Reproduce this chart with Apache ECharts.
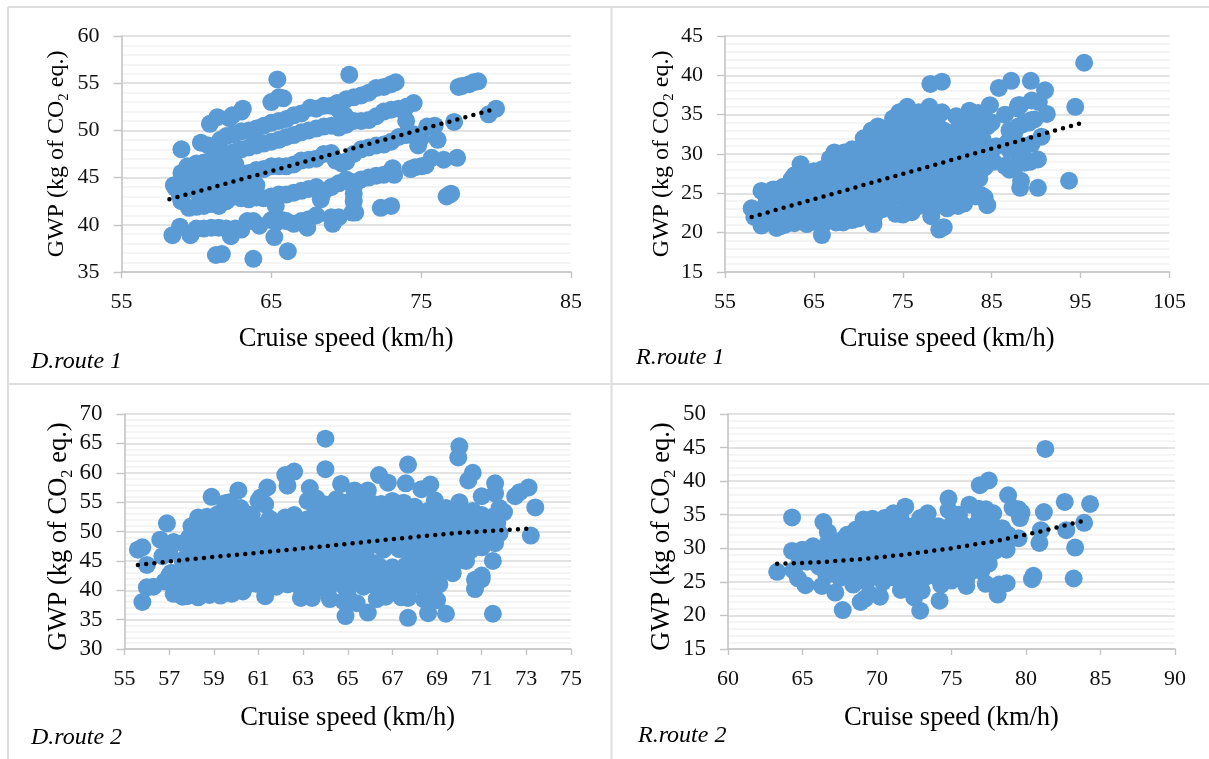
<!DOCTYPE html>
<html>
<head>
<meta charset="utf-8">
<style>html,body{margin:0;padding:0;background:#fff}#c{width:1209px;height:759px}</style>
<script src="https://cdn.jsdelivr.net/npm/echarts@6/dist/echarts.min.js"></script>
</head>
<body>
<div id="c"></div>
<script>
const xTicksD1 = [55,65,75,85];
const xTicksR1 = [55,65,75,85,95,105];
const xTicksD2 = [55,57,59,61,63,65,67,69,71,73,75];
const xTicksR2 = [60,65,70,75,80,85,90];

const trendD1 = [[58.2,42.7],[80,52.3]];
const trendR1 = [[58,22],[95.3,34]];
const trendD2 = [[55.6,44.3],[58,45.3],[61,46.4],[64,47.5],[67,48.7],[70,49.8],[73.2,50.5]];
const trendR2 = [[63.3,27.7],[66,27.9],[69,28.4],[72,29.1],[75,30],[78,31.1],[81,32.5],[83.9,34.1]];

const pointsD1 = [
[60.9,50.7],[61.4,51.4],[62.2,51.3],[62.4,51.6],[63,52],[63.1,52.3],
[60.3,48.7],[60.8,48.4],[61.6,49],[62,49.4],[62.5,49.6],[63,49.9],[63.5,50],[64,50.2],[64.5,50.5],[65,50.8],[65.5,51],[66,51.2],[66.5,51.6],[67,51.8],[67.6,52.4],[68,52.3],[68.5,52.6],[69,52.6],[69.4,52.9],[69.6,52],[69.9,51.6],
[65,53],[65.5,53.5],[65.8,53.4],[65.4,55.4],[70.2,55.9],[70,53.3],[70.5,53.5],[71,53.7],[71.5,54],[72,54.5],[72.5,54.6],[73,54.9],[73.3,55.1],[77.5,54.6],[77.7,54.7],[78.2,54.9],[78.5,55.1],[78.8,55.2],[80,52.3],[79.5,51.7],[77.2,50.9],
[59,48],[59.4,46.2],[60,46.5],[60.5,46.6],[61,46.8],[61.5,47.2],[62,47.5],[62.5,47.7],[63,48],[63.5,48.2],[64,48.4],[64.5,48.6],[65,48.8],[65.5,49],[66,49.3],[66.5,49.5],[67,49.8],[67.5,50],[68,50.2],[68.5,50.4],[69,50.5],[69.5,50.3],[70,50.6],[70.5,51],[71,51],[71.5,51.1],[72,51.5],[72.5,52],[73,52.2],[73.5,52.3],[74,52.5],[74.5,52.9],[74,51],
[58.5,44.2],[59,44.5],[59.5,44.8],[60,45],[60.5,45.2],[61,45.2],[61.5,45],[62,45.1],[62.5,45.2],[63,45.4],[63.5,45.5],[64,45.8],[64.5,45.9],[65,46.2],[65.5,46.2],[66,46.2],[66.5,46.4],[67,46.8],[67.5,46.9],[68,47],[68.5,47.5],[69,47.6],[69.3,46.8],[69.7,46.5],[70,46.7],[70.5,47.5],[71,48],[71.5,48.2],[72,48.4],[72.5,48.5],[73,48.8],[73.5,49.3],[74,49.5],[74.5,49.6],[74.8,48.4],[75,49.2],[75.4,50.4],[75.9,50.5],[76.1,49],
[58.6,43.9],[59,42.5],[59.5,41.8],[60,41.9],[60.5,42],[61,42.2],[61.5,42],[62,42.5],[62.5,43],[63,42.8],[63.5,42.7],[64,42.9],[64.5,42.8],[65,43],[65.3,42],[65.5,43.2],[66,43.2],[66.5,43.4],[67,43.6],[67.5,43.8],[68,44],[68.3,42.7],[68.5,43.5],[69,44],[69.5,44.4],[70,44.8],[70.5,44.5],[71,44.8],[71.5,45],[72,45.2],[72.5,45.3],[73,45.6],[73.2,45.3],[73.1,46],[74.3,45.9],[74.6,46.1],[75,46.2],[75.3,46.3],[75.7,47.1],[76.5,46.9],[77.4,47.1],[76.7,43],[76.9,43.2],[77,43.3],[72.3,41.8],[73,42],[70.5,44],[70.5,43.3],[70.5,42.5],[70.4,41.3],[70.6,41.3],
[59.2,43.6],[60,43.5],[60.5,43.8],[61,43.5],[61.6,43.7],[62,43.8],[62.5,44],[63,44.2],[59.8,44],[58.9,43.1],[60.4,42.8],[61.5,42.9],
[59,45.5],[60,45.7],[61,46],[62,46.2],[62.6,46.4],[60.7,44.6],[61.5,44.4],[62,44.3],[63,44.5],[63.5,44.3],[64,44.2],[63.3,43.7],
[58.4,38.9],[58.9,39.8],[59.6,38.9],[60,39.6],[60.5,39.6],[61,39.7],[61.5,39.7],[62,39.6],[62.3,38.8],[62.6,39.6],[63,39.5],[63.4,40.4],[63.8,40.4],[64.2,39.9],[65,40.5],[65.2,38.7],[65.4,40.3],[65.7,40.5],[66,40.4],[66.5,40.1],[67,40.4],[67.4,39.7],[67.5,40.6],[68,41],[69,40.8],[69.1,40.1],[69.5,40.8],[61.3,36.8],[61.7,36.9],[63.8,36.4],[66.1,37.2]
];

const pointsR1 = [
[95.4,41.6],[94.4,36],[93.7,26.6],[91,38.1],[91.2,35.1],[90.6,32.2],[90.2,29.3],[90.2,25.7],[90.3,36.6],[89.4,39.3],[89.5,36.8],[89.4,34.3],[89.8,34.4],[87.2,39.3],[85.8,38.4],[88,36.2],[87.9,35.8],[88.2,36.2],[88.3,26.6],[88.2,25.7],[86.5,35],[84.8,36.2],[84.5,23.5],[84.2,24.5],[83.8,24.8],[83.6,26.9],[84,31.8],[85.2,29],[79.4,39.2],[78.1,38.9],[78,36],[79.4,35.3],[75.5,36],[74.6,35.3],[73.9,34.5],[72.2,33.5],[71.5,33],[67.3,30.2],[68.4,30.2],[69.3,30.6],[63.5,28.7],[65,27.8],[62.8,27.3],[59.1,25.3],[60.5,25.4],[61.5,25.8],[58,23.1],[58.3,22],[59.1,20.9],[60.8,20.6],[61.2,20.8],[61.7,21],[64.2,21.1],[65.9,19.7],[66,21],[67.5,21.3],[68.3,21.3],[70,21.8],[71.7,21.1],[74.2,22.4],[75,22.3],[76,22.6],[78.2,22.1],[79.1,20.4],[79.6,20.7],[80,23.1],[81,23.6],[81.9,23.7],
[87,33],[87.5,32.5],[88,33.5],[88.5,33.8],[89.2,34],[86.5,28.5],[87,28],[87.5,28.2],[88,28.8],[88.7,28.9],[89.3,29],[88,30.8],[88.7,31],[89.5,31.3],[87,30.5],[86.8,31.5],[85,30.5],[85.5,31],[85,34],[84,34.5],[84.5,33.5],[81,34.8],[82.5,35.5],[83.5,35.2],
[59.3,21.6],[60.5,22],[62,21.4],[63.2,21.9],[64.6,21.6],[66.2,22],[67.6,21.8],[69,22.2],[70.4,22.4],[71.8,22.2],[60,21.3],[62.8,21.2],[65,21.4],[69.3,21.6],
[59,22.9],[60.4,23.1],[61.7,22.8],[63.1,23],[64.5,23.2],[65.8,22.9],[67.2,23.1],[68.7,22.8],[70,23.2],[71.3,23.3],[72.7,23],[76.8,23.4],[78.5,23.2],[79.8,23.5],[81.2,23.4],
[59.7,24.2],[61,24],[62.4,24.3],[63.8,24.1],[65.2,24.3],[66.5,24],[68,24.2],[69.4,24.4],[70.8,24.1],[72.2,24.3],[73.6,24.2],[75,24.4],[76.3,24.6],[77.7,24.2],[79,24.4],[80.4,24.6],[81.8,24.5],[83.2,24.6],
[60.4,25.5],[61.8,25.3],[63.2,25.5],[64.6,25.7],[66,25.3],[67.4,25.6],[68.8,25.4],[70.2,25.6],[71.5,25.4],[72.9,25.6],[74.4,25.5],[75.8,25.7],[77.2,25.5],[78.6,25.8],[80,25.5],[81.4,25.7],[82.8,25.6],
[62.5,26.8],[63.9,26.6],[65.3,26.9],[66.7,26.6],[68.1,26.8],[69.5,26.7],[70.9,26.9],[72.3,26.6],[73.7,26.8],[75.1,26.7],[76.5,27],[77.9,26.8],[79.3,26.7],[80.7,26.9],[82.1,26.8],[83.3,27],
[63.6,28],[66,28.1],[67.4,27.9],[68.8,28.2],[70.2,28],[71.6,28.1],[73,28],[74.4,28.3],[75.8,28.1],[77.2,28],[78.6,28.2],[80,28],[81.4,28.2],[82.8,28],[84.2,28.3],
[66.8,29.4],[68.2,29.2],[69.6,29.4],[71,29.5],[72.4,29.2],[73.8,29.4],[75.2,29.3],[76.6,29.5],[78,29.3],[79.4,29.4],[80.8,29.2],[82.2,29.5],[83.6,29.4],[84.8,29.6],
[69.4,30.5],[70.8,30.8],[72.2,30.5],[73.6,30.7],[75,30.6],[76.4,30.8],[77.8,30.5],[79.2,30.7],[80.6,30.6],[82,30.8],[83.4,30.5],[84.5,30.9],
[70.6,32],[72,31.8],[73.4,32],[74.8,31.9],[76.2,32.1],[77.6,31.8],[79,32],[80.4,31.9],[81.8,32.1],[83.2,31.9],
[72.8,33.2],[74.2,33],[75.6,33.3],[77,33.1],[78.4,33.3],[79.6,33],[81.2,33.2],[82.6,33.3],[83.6,33.1],
[74.8,34.3],[76.2,34.4],[77.6,34.5],[78.8,34.2],[81.5,34.2],[83,34.4],[76.8,35.3],[75.3,35.2]
];

const pointsD2 = [
[64,65.8],[70,64.5],[69.95,62.6],[67.7,61.4],[64,60.6],[62.6,60.2],[62.2,59.6],[62.3,57.8],[66.4,59.6],[70.6,60],[70.4,58.7],[71.6,58.2],[71.6,56.5],[71,56],[72.5,56],[72.7,56.7],[73.1,57.5],[73.4,54.1],[73.2,49.3],[72,53.3],[60.1,57],[61.4,57.5],[58.9,55.9],[59.5,54.8],[59.7,55],[61,55.2],[61.1,55.8],[61.3,54.6],[63.3,57.4],[63.2,55.2],[63.6,55.6],[64.7,58.1],[65.3,57],[65.9,57],[66.8,58.3],[67.6,58.2],[68.3,57.2],[68.7,58],[68.9,55.3],[69.4,54],[70,55],[70.6,53.5],[71.5,52.5],[71.8,54],[71.8,49.7],[71.6,48],[71,47.3],[71.5,45],[70.3,45],[70.5,46.8],[69.9,45],[69.7,42.9],[71,42.5],[70.7,41.8],[71,41.9],[70.7,40.2],[71.5,36],[69.4,36],[68.6,36.1],[67.7,35.3],[65.9,36.2],[64.9,35.6],[69,38.3],[68.4,38.5],[67.7,38.7],[67.4,38.8],[66.7,38.9],[66.3,38.5],[65.4,37.8],[64.8,38.2],[64.2,38.5],[63.4,38.7],[62.9,38.7],[61.3,39],[58.3,38.8],[57.6,38.9],[57.2,39.4],[55.8,38],[56.3,40.6],[56,40.5],[56,44.3],[55.6,46.9],[55.8,47.3],[56.9,51.4],[56.6,48.6],[57.2,48.2],[57.6,48],[56.7,45.8],[57,46.5],[57,42.5],[56.8,41.5],[57.2,41],
[57.8,39],[58.8,39.2],[59.3,39.1],[59.8,39.4],[60.3,39.8],[65,39.2],[64.1,39.8],
[57.4,41.2],[57.9,40.8],[58.4,41],[58.9,41.3],[59.4,40.9],[59.9,41.2],[60.4,40.7],[60.9,41.1],[61.4,41.3],[61.8,40.6],[62.3,41],[62.8,40.8],[63.2,41.2],[63.8,40.7],[64.2,41.1],[64.8,40.8],[65.2,41.3],[65.7,40.6],[66.1,41],[66.6,41.2],[67.2,40.9],[68.4,40.5],
[57.1,43],[57.6,43.2],[58.1,42.8],[58.6,43.1],[59.1,43.3],[59.6,42.9],[60.1,43],[60.6,43.2],[61.1,42.8],[61.6,43.1],[62.1,42.9],[62.6,43.3],[63.1,42.7],[63.6,43],[64.1,43.2],[64.6,42.9],[65.1,43.1],[65.6,42.8],[66.1,43.2],[66.6,43],[67.1,42.9],[67.6,43.1],[68.1,42.8],[68.6,43.2],[69.1,43.4],
[57.6,45.1],[58.1,44.9],[58.6,45.2],[59.1,44.8],[59.6,45],[60.1,45.3],[60.6,44.9],[61.1,45.1],[61.6,44.8],[62.1,45.2],[62.6,45],[63.1,44.9],[63.6,45.2],[64.1,44.8],[64.6,45.1],[65.1,44.9],[65.6,45.2],[66.1,44.7],[67.8,44.8],[68.3,45],[68.8,45.2],[69.3,45.4],
[57.9,47.1],[58.4,46.8],[58.9,47],[59.4,47.2],[59.9,46.9],[60.4,47.1],[60.9,46.8],[61.4,47.2],[61.9,47],[62.4,46.9],[62.9,47.1],[63.4,46.8],[63.9,47.2],[64.4,47],[64.9,46.9],[65.4,47.1],[65.9,47.3],[66.4,47.8],[67.9,47.2],[68.4,46.9],[68.9,47.1],[69.4,47.2],[69.9,47.3],
[57.9,49],[58.4,48.9],[58.9,49.2],[59.4,48.8],[59.9,49.1],[60.4,49],[60.9,48.8],[61.4,49.2],[61.9,49],[62.4,48.9],[62.9,49.1],[63.4,48.8],[63.9,49.2],[64.4,49],[64.9,48.8],[65.4,49.1],[65.9,49],[66.4,49.2],[66.9,48.9],[67.4,49.1],[67.9,49],[68.4,48.8],[68.9,49.2],[69.4,49],[69.9,49.1],[70.4,49.2],[70.9,49.3],
[58,50.9],[58.5,51.1],[59,50.8],[59.5,51],[60,51.2],[60.5,50.9],[61,51],[61.5,50.8],[62,51.1],[62.5,50.9],[63,51],[63.5,51.2],[64,50.8],[64.5,51],[65,51.1],[65.5,50.9],[66,51],[66.5,51.2],[67,50.8],[67.5,51],[68,51.1],[68.5,50.9],[69,51],[69.5,51.2],[70,51],[70.5,51],
[58.3,52.4],[58.7,52.5],[59.2,53],[59.7,53.3],[60.2,54],[60.7,52.9],[61.5,52.2],[62.2,52.4],[62.6,52.8],[63.5,52.8],[64,53.3],[64.5,53],[65,53.2],[65.5,52.9],[66,53],[66.5,53.2],[67,52.8],[67.5,53],[68,52.9],[69,52.8],[69.6,52.5],
[64,54.6],[64.5,55.5],[65,55],[65.5,54.8],[66,55],[66.5,54.7],[67,55.2],[67.5,54.9],
[58.2,42],[59.3,42.2],[60.3,41.9],[61.3,42.1],[62.4,41.8],[63.4,42.1],[64.4,41.9],[65.4,42.2],[66.4,41.9],[67.4,42.2],
[58.3,44],[59.4,43.9],[60.4,44.2],[61.4,43.9],[62.4,44.1],[63.4,43.9],[64.4,44.2],[65.4,44],[66.4,44.1],[68.1,44],[69,44.2],
[58.3,46],[59.3,45.9],[60.4,46.2],[61.4,45.9],[62.4,46.1],[63.4,45.9],[64.4,46.2],[65.4,46],[68.4,46.1],[69.2,46],
[58.2,48],[59.2,47.9],[60.2,48.1],[61.2,47.9],[62.2,48.1],[63.2,47.9],[64.2,48.1],[65.2,48],[66.2,48.5],[67.3,48],[68.2,48],[69.2,48.1],[70.1,48.2],
[58.3,50],[59.3,50.1],[60.3,49.9],[61.3,50.1],[62.3,49.9],[63.3,50.1],[64.3,49.9],[65.3,50.1],[66.3,50],[67.3,50.1],[68.3,49.9],[69.3,50.1],[70.3,50],
[58.8,52],[59.8,52.1],[60.3,52.5],[63.2,52.1],[64.2,52],[65.2,52.1],[66.2,52],[67.2,52.1],[68.2,52],
[66.6,46.9],[67.3,47],[67,43.9],[67.6,44.2],[68.6,44],[69.3,44.3],[68.1,41.8],[68.8,41.9],[68.5,41.3],[69.1,41],[68.5,39.8],[67.8,40.5],
[70.5,52],[71,51.5],[71.4,51.2],[71,52.8],[70.2,53],[70.8,50.5],[71.2,50.2],[71.7,51.5],[69.9,52.8],[69.4,53.2],[68.6,53.5],[68,54.2],[67.3,54],[66.3,54],[65.2,54.1],[64.5,54.2],[60.6,50],[60,52.8],[59,52.2]
];

const pointsR2 = [
[81.3,44.8],[77.5,40.1],[76.9,39.4],[78.8,37.9],[82.6,36.9],[84.3,36.6],[81.2,35.4],[74.8,37.4],[76.2,36.5],[76.8,35.9],[77.3,35.8],[77.8,35.2],[79.1,36],[79.5,35.8],[79.7,35.3],[79.6,34.5],[71.9,36.2],[73.4,35.2],[71.1,35.2],[70.5,34.5],[69.7,34.4],[69.1,34.3],[66.4,33.9],[66.7,32.4],[64.3,34.6],[74.8,35.7],[75.5,35],[78.4,33],[78,33],[83.9,33.8],[82.7,32.7],[81,32.7],[80.9,30.8],[83.3,30.1],[79.5,31.5],[78.7,29.8],[77.4,29],[80.4,25.4],[80.5,25.9],[83.2,25.5],[78.7,24.8],[78.2,24.6],[78.1,23.1],[77.3,24.7],[76,24.4],[74.3,24.6],[74.2,22.2],[72.9,20.7],[72.5,22.7],[73,23.7],[71.6,23.8],[71.9,24.5],[70.2,22.8],[69.5,23.2],[69.2,22.5],[68.9,22],[67.7,20.8],[67.2,23.4],[66.3,24.4],[65.2,24.5],[64.7,25.5],[64.4,26.7],[63.3,26.5],[64.3,29.6],[65,29.8],[65.7,30.3],[64.8,28],[65.3,28],[68,32],[68.6,32.8],[66.7,30.8],
[68.4,24.6],[69.3,25],[70.4,25],[73,25.2],[75,25.2],[76,25.5],[72.4,25],
[66.6,26],[67.5,25.6],[68.4,26],[69.2,25.8],[70.1,26],[71,25.7],[71.9,26.1],[72.7,25.8],[73.6,26],[74.5,26.2],[75.4,26.1],[76.2,26.4],[77,26.6],
[66.1,27.3],[67,27.5],[67.9,27.2],[68.7,27.6],[69.6,27.3],[70.5,27.5],[71.3,27.2],[72.2,27.6],[73.1,27.3],[74,27.5],[74.8,27.3],[75.7,27.6],[76.6,27.4],[77.5,27.7],
[65.6,28.8],[66.5,29],[67.4,28.8],[68.3,29.1],[69.1,28.9],[70,29.1],[70.9,28.8],[71.8,29],[72.6,28.8],[73.5,29.1],[74.4,28.9],[75.3,29],[76.2,28.8],[77,29.2],[77.9,29.6],
[67,30.5],[67.9,30.3],[68.8,30.6],[69.6,30.4],[70.5,30.7],[71.4,30.4],[72.3,30.6],[73.2,30.4],[74,30.7],[74.9,30.5],[75.8,30.6],[76.7,30.4],[77.6,30.7],[78.5,30.8],
[68.4,32],[69.3,31.8],[70.2,32.1],[71,31.9],[71.9,32.2],[72.8,31.9],[73.7,32.1],[74.5,31.9],[75.4,32.2],[76.3,31.9],[77.2,32.1],[78,32],[78.8,32],
[70.6,33.3],[71.5,33.5],[72.4,33.3],[73.2,33.6],[74.1,33.3],[75,33.5],[75.9,33.3],[76.7,33.6],[77.6,33.4],
[72.9,34.5],[71.6,34.4],[76.9,34.7],[75.5,34.4],
[67.2,26.7],[68.3,26.5],[69.4,26.6],[70.6,26.5],[71.7,26.7],[72.8,26.6],[74,26.8],[75.1,26.7],[76.3,27],
[66.5,28.1],[67.7,28],[68.8,28.2],[70,28.1],[71.2,28.2],[72.4,28],[73.6,28.2],[74.8,28],[76,28.2],[77.1,28.4],
[66.6,29.8],[67.8,29.7],[69,29.9],[70.2,29.7],[71.4,29.9],[72.6,29.7],[73.8,29.9],[75,29.7],[76.2,29.9],[77.4,30],[78.4,30.4],
[67.7,31.3],[68.9,31.2],[70.1,31.4],[71.3,31.2],[72.5,31.4],[73.7,31.2],[74.9,31.4],[76.1,31.2],[77.3,31.4],[78.6,31.4],
[69.9,32.9],[71.1,32.8],[72.3,32.9],[73.5,32.8],[74.7,32.9],[75.9,32.8],[77.1,32.9]
];

const fontFamily = '"Liberation Serif","Times New Roman",serif';
const blue = '#5B9BD5';

function panel(i, box, yMin, yMax, xTicks, points, trend, yNameSize, yNameGap, yNameShift, yLabelSize, xNameGap) {
  const gridCfg = {left: box[0], top: box[1], width: box[2]-box[0], height: box[3]-box[1], containLabel:false};
  const xAxisCfg = {
    gridIndex:i, type:'value', min:xTicks[0], max:xTicks[xTicks.length-1],
    axisLine:{show:true,onZero:false,lineStyle:{color:'#c4c4c4',width:1.6}},
    axisTick:{show:true,length:6,customValues:xTicks,lineStyle:{color:'#c4c4c4',width:1.4}},
    axisLabel:{customValues:xTicks,margin:19,fontFamily,fontSize:22,color:'#111',hideOverlap:false,showMinLabel:true,showMaxLabel:true},
    splitLine:{show:false},
    name:'Cruise speed (km/h)',nameLocation:'middle',nameGap:xNameGap,
    nameTextStyle:{fontFamily,fontSize:26.5,color:'#000'}
  };
  const yAxisCfg = {
    gridIndex:i, type:'value', min:yMin, max:yMax, interval:5,
    axisLine:{show:true,onZero:false,lineStyle:{color:'#c4c4c4',width:1.6}},
    axisTick:{show:true,length:8,lineStyle:{color:'#c4c4c4',width:1.4}},
    axisLabel:{margin:22,fontFamily,fontSize:yLabelSize,color:'#111'},
    splitLine:{show:true,lineStyle:{color:'#d9d9d9',width:1.6}},
    minorTick:{show:false,splitNumber:5},
    minorSplitLine:{show:true,lineStyle:{color:'#f2f2f2',width:1.6}},
    name:'GWP (kg of CO{sub|2} eq.)',nameLocation:'middle',nameGap:yNameGap,
    nameTextStyle:{fontFamily,fontSize:yNameSize,color:'#000',padding:[0,yNameShift,0,0],
      rich:{sub:{fontFamily,fontSize:yNameSize*0.62,color:'#000',verticalAlign:'bottom',lineHeight:yNameSize*1.25}}}
  };
  const scatter = {type:'scatter',xAxisIndex:i,yAxisIndex:i,data:points,symbol:'circle',symbolSize:18,
    itemStyle:{color:blue,opacity:1},z:3,silent:true};
  const line = {type:'line',xAxisIndex:i,yAxisIndex:i,data:trend,showSymbol:false,smooth:false,
    lineStyle:{color:'#000',width:4.5,type:[0,8.3],cap:'round'},z:4,silent:true};
  return {gridCfg,xAxisCfg,yAxisCfg,scatter,line};
}

const panels = [
  panel(0,[121.5,36,571,272],35,60,xTicksD1,pointsD1,trendD1,24,49.5,0,22,54),
  panel(1,[725,36,1169.5,272],15,45,xTicksR1,pointsR1,trendR1,24,48,0,22,54),
  panel(2,[124.5,414,571,649],30,70,xTicksD2,pointsD2,trendD2,26.5,48.5,10,23,56),
  panel(3,[728,414,1175,649],15,50,xTicksR2,pointsR2,trendR2,26.5,47,10,23,56)
];

function frameLine(x1,y1,x2,y2){
  return {type:'line',shape:{x1,y1,x2,y2},style:{stroke:'#dedede',lineWidth:2},silent:true};
}
function caption(text,x,y){
  return {type:'text',left:x,top:y,style:{text,fontFamily,fontStyle:'italic',fontSize:24,fill:'#000'},silent:true};
}

const chart = echarts.init(document.getElementById('c'),null,{renderer:'canvas'});
chart.setOption({
  animation:false,
  backgroundColor:'#fff',
  tooltip:{show:false},
  grid:panels.map(p=>p.gridCfg),
  xAxis:panels.map(p=>p.xAxisCfg),
  yAxis:panels.map(p=>p.yAxisCfg),
  series:panels.flatMap(p=>[p.scatter,p.line]),
  graphic:[
    frameLine(8,7,1209,7),frameLine(8,384,1209,384),frameLine(8,7,8,759),frameLine(611.5,7,611.5,759),
    caption('D.route 1',31,350),caption('R.route 1',636,346),caption('D.route 2',31,726),caption('R.route 2',638,724)
  ]
});
</script>
</body>
</html>
